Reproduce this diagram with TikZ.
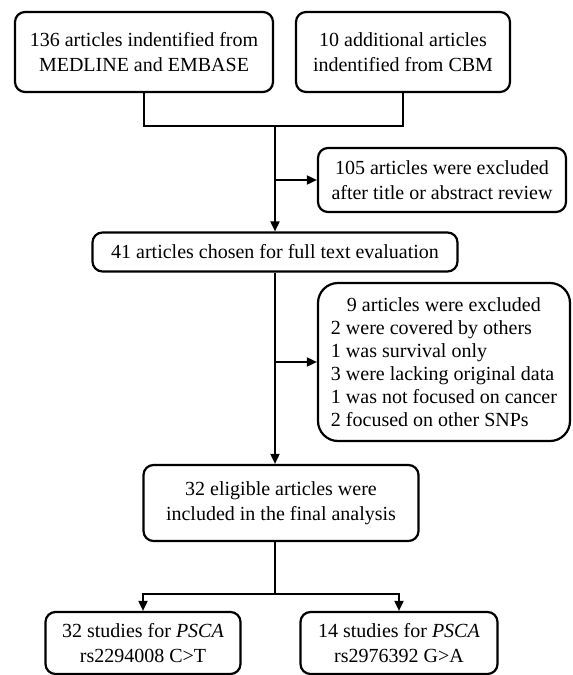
\documentclass[tikz,border=0pt]{standalone}
\usepackage{fontspec}
\setmainfont{Liberation Serif}
\usetikzlibrary{positioning, arrows.meta}

\begin{document}
\begin{tikzpicture}[x=1pt, y=-1pt, >={Triangle[length=10pt,width=9pt]},
  box/.style={draw, line width=2.2pt, rounded corners=10pt, align=center,
    inner sep=0pt, font=\fontsize{20}{25}\selectfont},
  link/.style={line width=1.8pt}]
  \useasboundingbox (0,0) rectangle (573,675);
  % sources
  \node[box, minimum width=258pt, minimum height=80pt] (medline) at (144,52)
    {136 articles indentified from\\MEDLINE and EMBASE};
  \node[box, minimum width=214pt, minimum height=80pt] (cbm) at (403,52)
    {10 additional articles\\indentified from CBM};
  \coordinate (join) at (275,126);
  % screening
  \node[box, minimum width=248pt, minimum height=64pt] (excla) at (442,180)
    {105 articles were excluded\\after title or abstract review};
  \node[box, minimum width=365pt, minimum height=39pt] (full) at (275,252)
    {41 articles chosen for full text evaluation};
  \node[box, rounded corners=20pt, minimum width=252pt, minimum height=158pt,
    align=left, font=\fontsize{20}{23}\selectfont] (exclb) at (444,362)
    {\hspace*{16pt}9 articles were excluded\\2 were covered by others\\
     1 was survival only\\3 were lacking original data\\
     1 was not focused on cancer\\2 focused on other SNPs};
  \node[box, minimum width=275pt, minimum height=76pt] (final) at (281,503)
    {32 eligible articles were\\included in the final analysis};
  \coordinate (split) at (275,594);
  % studies
  \node[box, minimum width=195pt, minimum height=62pt] (snpa) at (143,643)
    {32 studies for \textit{PSCA}\\rs2294008 C>T};
  \node[box, minimum width=197pt, minimum height=62pt] (snpb) at (399,643)
    {14 studies for \textit{PSCA}\\rs2976392 G>A};
  % connectors
  \draw[link] (medline.south) |- (join) -| (cbm.south);
  \draw[link,->] (join) -- (join |- full.north);
  \draw[link,->] (join |- excla.west) -- (excla.west);
  \draw[link,->] (full.south) -- (full.south |- final.north);
  \draw[link,->] (full.south |- exclb.west) -- (exclb.west);
  \draw[link] (full.south |- final.south) -- (split);
  \draw[link,->] (split) -| (snpa.north);
  \draw[link,->] (split) -| (snpb.north);
\end{tikzpicture}
\end{document}
